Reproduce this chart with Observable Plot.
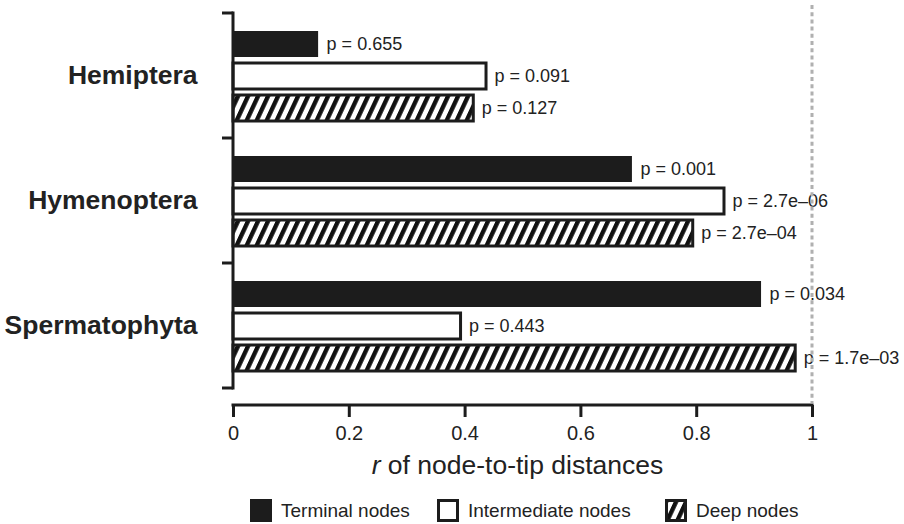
<!DOCTYPE html>
<html>
<head>
<meta charset="utf-8">
<script src="https://cdn.jsdelivr.net/npm/d3@7"></script>
<script src="https://cdn.jsdelivr.net/npm/@observablehq/plot@0.6"></script>
<style>
  html, body { margin: 0; padding: 0; background: #fff; }
  #chart { width: 904px; }
  #legend { position: relative; width: 904px; height: 34px; font-family: "Liberation Sans", Arial, sans-serif; font-size: 19px; color: #222; }
  #legend .item { position: absolute; top: 9px; height: 23px; display: flex; align-items: center; }
  #legend .item svg { display: block; }
  #legend .item span { margin-left: 8px; line-height: 23px; }
</style>
</head>
<body>
<svg width="0" height="0" style="position:absolute">
  <defs>
    <pattern id="hatch" patternUnits="userSpaceOnUse" width="10" height="10" patternTransform="skewX(-25)">
      <rect x="0" y="0" width="10" height="10" fill="#fff"></rect>
      <rect x="0" y="0" width="4.8" height="10" fill="#111"></rect>
    </pattern>
  </defs>
</svg>
<div id="chart"></div>
<div id="legend"></div>
<script>
// ---- data ----
const groups = ["Hemiptera", "Hymenoptera", "Spermatophyta"];
const series = ["Terminal nodes", "Intermediate nodes", "Deep nodes"];
const terminalR = [0.147, 0.689, 0.912];
const intermediateR = [0.437, 0.848, 0.393];
const deepR = [0.415, 0.794, 0.971];
const terminalP = ["p = 0.655", "p = 0.001", "p = 0.034"];
const intermediateP = ["p = 0.091", "p = 2.7e–06", "p = 0.443"];
const deepP = ["p = 0.127", "p = 2.7e–04", "p = 1.7e–03"];
const xTicks = [0, 0.2, 0.4, 0.6, 0.8, 1];
const referenceR = [1];

const valuesBySeries = [terminalR, intermediateR, deepR];
const pBySeries = [terminalP, intermediateP, deepP];
const rows = groups.flatMap((g, i) =>
  series.map((s, j) => ({group: g, series: s, r: valuesBySeries[j][i], p: pBySeries[j][i]}))
);

const ink = "#1c1c1c";
const styles = {
  "Terminal nodes": {fill: ink, stroke: "none"},
  "Intermediate nodes": {fill: "#fff", stroke: ink},
  "Deep nodes": {fill: "url(#hatch)", stroke: ink}
};

const plot = Plot.plot({
  width: 904,
  height: 490,
  marginLeft: 233,
  marginRight: 92,
  marginTop: 12,
  marginBottom: 102,
  style: {fontFamily: "'Liberation Sans', Arial, sans-serif", color: "#222", background: "#fff"},
  x: {domain: [0, 1]},
  y: {domain: series, paddingInner: 0.2, paddingOuter: 0.52, axis: null},
  fy: {domain: groups, padding: 0},
  marks: [
    ...series.map(s => Plot.barX(rows.filter(d => d.series === s), {
      x: "r", y: "series", fy: "group",
      fill: styles[s].fill, stroke: styles[s].stroke, strokeWidth: 3
    })),
    Plot.text(rows, {
      x: "r", y: "series", fy: "group", text: "p",
      textAnchor: "start", dx: 8, fontSize: 18, fill: "#222"
    }),
    Plot.axisFy({anchor: "left", tickSize: 0, tickPadding: 36, fontSize: 26.5, fontWeight: "bold", label: null, fill: "#222"}),
    Plot.axisX(xTicks, {
      anchor: "bottom", tickSize: 12, tickPadding: 8, strokeWidth: 3, dy: 17,
      fontSize: 20, label: null, tickFormat: d => String(d), stroke: ink, fill: "#222"
    })
  ]
});

document.getElementById("chart").appendChild(plot);

// ---- decorations drawn from the plot's own scales ----
const svgEl = plot.tagName.toLowerCase() === "svg" ? plot : plot.querySelector("svg");
const svgSel = d3.select(svgEl);
const xs = plot.scale("x");
const fys = plot.scale("fy");
const edges = fys.domain.map(d => fys.apply(d));
edges.push(fys.apply(fys.domain[fys.domain.length - 1]) + fys.bandwidth);
const yTop = edges[0], yBottom = edges[edges.length - 1];
const x0 = xs.apply(0), x1 = xs.apply(1);
const deco = svgSel.append("g").attr("fill", "none").attr("stroke", ink).attr("stroke-width", 3);
// y axis spine and group boundary ticks
deco.append("line").attr("x1", x0).attr("x2", x0).attr("y1", yTop - 1.5).attr("y2", yBottom + 1.5);
edges.forEach(y => deco.append("line").attr("x1", x0 - 11).attr("x2", x0).attr("y1", y).attr("y2", y));
// x axis spine
const axisY = yBottom + 17;
deco.append("line").attr("x1", x0 - 1.5).attr("x2", x1 + 1.5).attr("y1", axisY).attr("y2", axisY);
// dotted reference line at r = 1
referenceR.forEach(v => {
  svgSel.append("line")
    .attr("x1", xs.apply(v)).attr("x2", xs.apply(v))
    .attr("y1", 5).attr("y2", axisY - 1.5)
    .attr("stroke", "#b0b0b0").attr("stroke-width", 3).attr("stroke-dasharray", "4,3.2");
});
// axis title with italic r
const title = svgSel.append("text")
  .attr("x", (x0 + x1) / 2 - 5).attr("y", axisY + 69)
  .attr("text-anchor", "middle").attr("font-size", 26.5).attr("fill", "#222");
title.append("tspan").attr("font-style", "italic").text("r");
title.append("tspan").text(" of node-to-tip distances");

// ---- legend ----
const legend = d3.select("#legend");
const legendLeft = [250, 437, 665];
series.forEach((s, i) => {
  const item = legend.append("div").attr("class", "item").style("left", legendLeft[i] + "px");
  const sw = item.append("svg").attr("width", 23).attr("height", 23);
  const st = styles[s];
  if (st.stroke === "none") {
    sw.append("rect").attr("x", 0).attr("y", 0).attr("width", 22).attr("height", 23).attr("fill", st.fill);
  } else {
    sw.append("rect").attr("x", 1.5).attr("y", 1.5).attr("width", 19).attr("height", 20)
      .attr("fill", st.fill).attr("stroke", st.stroke).attr("stroke-width", 3);
  }
  item.append("span").text(s);
});
</script>
</body>
</html>
